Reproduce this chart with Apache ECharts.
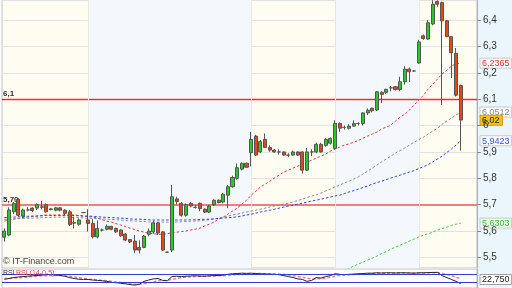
<!DOCTYPE html>
<html><head><meta charset="utf-8">
<script src="https://cdn.jsdelivr.net/npm/echarts@6/dist/echarts.min.js"></script>
<style>html,body{margin:0;padding:0;background:#fff}#c{width:512px;height:288px}</style>
</head><body><div id="c"></div>
<script>
// [open, close, low, high]
const candles = [
[5.577,5.600,5.560,5.610],[5.585,5.680,5.580,5.690],[5.673,5.705,5.665,5.710],[5.720,5.660,5.655,5.725],
[5.657,5.680,5.650,5.685],[5.680,5.680,5.675,5.690],[5.687,5.678,5.672,5.690],[5.687,5.700,5.680,5.705],
[5.690,5.692,5.682,5.715],[5.700,5.673,5.670,5.705],[5.684,5.682,5.678,5.688],[5.679,5.688,5.675,5.692],
[5.688,5.679,5.675,5.690],[5.679,5.667,5.660,5.683],[5.673,5.625,5.620,5.680],[5.630,5.632,5.610,5.655],
[5.626,5.642,5.620,5.648],[5.670,5.670,5.668,5.672],[5.642,5.629,5.598,5.683],[5.629,5.578,5.572,5.645],
[5.578,5.610,5.572,5.640],[5.604,5.604,5.598,5.610],[5.607,5.618,5.603,5.625],[5.618,5.607,5.603,5.620],
[5.610,5.597,5.593,5.613],[5.604,5.582,5.578,5.607],[5.589,5.566,5.562,5.592],[5.568,5.559,5.555,5.570],
[5.562,5.528,5.516,5.585],[5.538,5.528,5.515,5.565],[5.538,5.581,5.535,5.585],[5.588,5.600,5.580,5.610],
[5.597,5.631,5.590,5.640],[5.631,5.593,5.585,5.635],[5.597,5.528,5.525,5.600],[5.520,5.520,5.518,5.522],
[5.528,5.730,5.520,5.775],[5.722,5.712,5.700,5.730],[5.705,5.660,5.655,5.710],[5.660,5.700,5.655,5.705],
[5.705,5.695,5.690,5.710],[5.690,5.690,5.685,5.700],[5.705,5.685,5.675,5.708],[5.683,5.672,5.668,5.686],
[5.672,5.695,5.668,5.700],[5.700,5.717,5.695,5.720],[5.717,5.708,5.705,5.720],[5.710,5.740,5.705,5.745],
[5.736,5.768,5.687,5.775],[5.768,5.803,5.765,5.810],[5.800,5.840,5.795,5.856],[5.835,5.857,5.830,5.860],
[5.857,5.842,5.840,5.860],[5.897,5.947,5.845,5.976],[5.960,5.888,5.885,5.965],[5.900,5.939,5.895,5.945],
[5.948,5.917,5.915,5.970],[5.917,5.907,5.900,5.925],[5.907,5.900,5.897,5.910],[5.900,5.900,5.890,5.910],
[5.900,5.888,5.885,5.902],[5.888,5.888,5.880,5.895],[5.888,5.900,5.885,5.905],[5.900,5.888,5.885,5.902],
[5.900,5.831,5.818,5.902],[5.831,5.900,5.828,5.915],[5.900,5.900,5.885,5.910],[5.900,5.929,5.895,5.935],
[5.929,5.900,5.897,5.935],[5.925,5.948,5.920,5.952],[5.933,5.951,5.928,5.955],[5.913,6.008,5.910,6.020],
[6.008,5.990,5.975,6.012],[5.993,5.993,5.985,6.000],[5.990,5.998,5.985,6.005],[5.998,6.008,5.995,6.020],
[6.008,6.008,6.000,6.012],[6.008,6.048,6.000,6.050],[6.048,6.058,6.040,6.065],[6.066,6.056,6.050,6.068],
[6.059,6.128,6.055,6.130],[6.126,6.118,6.085,6.130],[6.126,6.137,6.120,6.140],[6.143,6.143,6.130,6.150],
[6.147,6.137,6.133,6.150],[6.137,6.166,6.130,6.185],[6.166,6.214,6.155,6.225],[6.214,6.204,6.165,6.220],
[6.207,6.207,6.205,6.209],[6.237,6.317,6.235,6.325],[6.340,6.330,6.325,6.345],[6.328,6.390,6.325,6.400],
[6.385,6.460,6.380,6.475],[6.470,6.460,6.450,6.475],[6.466,6.397,6.078,6.470],[6.397,6.337,6.335,6.400],
[6.337,6.276,6.180,6.340],[6.274,6.115,6.110,6.294],[6.152,6.021,5.905,6.155]
];
const maRed = [5.638,5.642,5.645,5.649,5.651,5.653,5.655,5.657,5.659,5.661,5.661,5.661,5.661,5.661,5.661,5.661,5.659,5.657,5.655,5.653,
5.649,5.643,5.638,5.634,5.628,5.623,5.617,5.611,5.606,5.600,5.596,5.592,5.590,5.588,5.588,5.590,5.594,5.596,5.598,5.600,
5.604,5.607,5.611,5.619,5.626,5.634,5.645,5.653,5.664,5.676,5.687,5.702,5.717,5.736,5.751,5.767,5.778,5.789,5.801,5.812,
5.824,5.831,5.839,5.846,5.854,5.861,5.869,5.877,5.884,5.892,5.903,5.911,5.918,5.926,5.930,5.937,5.943,5.952,5.960,5.968,
5.975,5.987,5.994,6.002,6.017,6.032,6.043,6.059,6.078,6.097,6.115,6.138,6.157,6.176,6.195,6.210,6.225,6.235,6.2365];
const maGray = [5.645,5.645,5.646,5.647,5.648,5.648,5.649,5.650,5.651,5.651,5.652,5.653,5.653,5.653,5.652,5.651,5.651,5.650,5.649,5.648,
5.647,5.646,5.645,5.644,5.643,5.642,5.640,5.639,5.638,5.637,5.636,5.635,5.634,5.634,5.634,5.634,5.634,5.635,5.635,5.636,
5.637,5.638,5.639,5.641,5.643,5.646,5.649,5.653,5.657,5.661,5.664,5.668,5.672,5.676,5.679,5.683,5.687,5.691,5.695,5.698,
5.702,5.706,5.710,5.716,5.721,5.727,5.733,5.738,5.744,5.752,5.759,5.767,5.774,5.782,5.789,5.797,5.805,5.816,5.827,5.839,
5.850,5.862,5.873,5.884,5.896,5.905,5.915,5.926,5.937,5.947,5.956,5.968,5.979,5.990,6.004,6.017,6.028,6.040,6.0512];
const maBlue = [5.651,5.652,5.653,5.654,5.655,5.656,5.657,5.657,5.658,5.659,5.659,5.659,5.659,5.659,5.659,5.659,5.658,5.657,5.657,5.656,
5.654,5.653,5.652,5.651,5.650,5.649,5.648,5.646,5.645,5.645,5.644,5.643,5.642,5.642,5.642,5.642,5.642,5.642,5.642,5.642,
5.643,5.643,5.644,5.645,5.645,5.646,5.648,5.649,5.651,5.652,5.654,5.657,5.661,5.664,5.668,5.672,5.676,5.679,5.683,5.687,
5.691,5.695,5.698,5.702,5.706,5.710,5.714,5.717,5.721,5.725,5.729,5.733,5.736,5.742,5.748,5.753,5.759,5.765,5.771,5.778,
5.784,5.789,5.795,5.801,5.807,5.812,5.818,5.824,5.829,5.837,5.844,5.852,5.862,5.873,5.884,5.898,5.911,5.926,5.9423];
const maGreen = [null,null,null,null,null,null,null,null,null,null,null,null,null,null,null,null,null,null,null,null,
null,null,null,null,null,null,null,null,null,null,null,null,null,null,null,null,null,null,null,null,
null,null,null,null,null,null,null,null,null,null,null,null,null,null,null,null,null,null,null,null,
null,null,null,null,null,null,null,null,null,null,5.429,5.437,5.444,5.452,5.458,5.467,5.475,5.482,5.490,5.497,
5.505,5.515,5.522,5.532,5.539,5.547,5.554,5.562,5.570,5.577,5.585,5.590,5.596,5.604,5.609,5.615,5.621,5.626,5.6303];
const rsi = [46,50,55,58,60,62,64,66,68,70,70,68,66,62,55,50,46,45,45,42,40,38,35,30,28,25,22,18,15,20,
35,42,48,50,40,38,60,62,60,62,63,64,63,62,64,65,66,68,72,75,76,78,77,78,76,75,74,73,72,70,
65,60,55,48,45,35,40,55,52,60,65,75,72,70,72,73,75,76,78,78,80,79,80,80,79,80,80,79,78,80,
80,81,82,82,65,55,45,35,22.75];
const rsiSig = [50,50,52,54,56,58,60,62,64,65,66,66,66,65,62,58,54,50,47,45,43,41,38,35,32,29,26,23,20,19,
22,27,33,38,40,40,45,50,54,57,59,61,62,62,63,63,64,65,67,69,71,73,74,75,76,76,75,75,74,73,
71,68,65,61,57,52,48,48,49,52,56,62,66,68,70,71,72,74,75,76,77,78,78,79,79,79,79,79,79,79,
79,80,80,81,77,72,65,57,48];
const yTicks = [5.5,5.6,5.7,5.8,5.9,6.0,6.1,6.2,6.3,6.4];
const hLines = [6.1, 5.7];
const endValues = {red:6.2365, gray:6.0512, last:6.02, blue:5.9423, green:5.6303};
const rsiLast = 22.750;
const bandBreaks = [18, 53, 71, 89];
const NSLOTS = 102;
const cats = Array.from({length: NSLOTS}, (_, i) => String(i));

const fmt = v => String(v).replace('.', ',');
const chart = echarts.init(document.getElementById('c'));
const GL = 2, GR = 35;
const ma = (name, data, color) => ({
  type:'line', name, data, xAxisIndex:0, yAxisIndex:0, showSymbol:false, symbol:'none',
  lineStyle:{color, width:1, type:[2.5,2]}, z:3, silent:true, animation:false
});
chart.setOption({
  animation:false,
  grid:[
    {left:GL, right:GR, top:0, height:268, show:true, backgroundColor:'#fffdf1', borderColor:'#b8c0c8', borderWidth:1},
    {left:GL, right:GR, top:269, height:21, show:true, backgroundColor:'#ffffff', borderColor:'#b8c0c8', borderWidth:1}
  ],
  xAxis:[
    {type:'category', gridIndex:0, data:cats, boundaryGap:true, axisLine:{show:false}, axisTick:{show:false}, axisLabel:{show:false}},
    {type:'category', gridIndex:1, data:cats, boundaryGap:true, axisLine:{show:false}, axisTick:{show:false}, axisLabel:{show:false}}
  ],
  yAxis:[
    {type:'value', gridIndex:0, position:'right', min:5.46, max:6.476, splitNumber:10, scale:true,
     axisLine:{show:true, lineStyle:{color:'#a8b0b8'}},
     axisTick:{show:true, length:4, lineStyle:{color:'#888'}},
     axisLabel:{show:true, showMinLabel:false, showMaxLabel:false, margin:6, fontSize:10, color:'#333', fontFamily:'Liberation Sans',
       formatter: v => { const t = yTicks.find(k => Math.abs(k - v) < 1e-6); return t === undefined ? '' : fmt(t); }},
     splitLine:{show:true, lineStyle:{color:'#e2e2e2', width:1}}},
    {type:'value', gridIndex:1, position:'right', min:0, max:100, axisLine:{show:true, lineStyle:{color:'#a8b0b8'}},
     axisTick:{show:false}, axisLabel:{show:false}, splitLine:{show:false}}
  ],
  series:[
    {type:'candlestick', name:'px', xAxisIndex:0, yAxisIndex:0, data:candles, barWidth:'76%', z:4,
     itemStyle:{color:'#22cc22', color0:'#ee4411', borderColor:'#555555', borderColor0:'#555555', borderWidth:1},
     markArea:{silent:true, itemStyle:{color:'#f4f8fd'}, z:0,
       data:[[{xAxis:bandBreaks[0]},{xAxis:bandBreaks[1]}],[{xAxis:bandBreaks[2]},{xAxis:bandBreaks[3]}]]},
     markLine:{silent:true, symbol:'none', z:2, animation:false,
       data:[
         {yAxis:hLines[0], lineStyle:{color:'#ff2a2a', width:1.3, type:'solid'},
          label:{show:true, position:'insideStartTop', formatter:fmt(hLines[0]), color:'#333', fontSize:8, fontWeight:'bold', distance:[1,1]}},
         {yAxis:hLines[1], lineStyle:{color:'#f47c7c', width:2, type:'solid'},
          label:{show:true, position:'insideStartTop', formatter:'5,70', color:'#333', fontSize:8, fontWeight:'bold', distance:[1,1]}},
         ...bandBreaks.map(b => ({xAxis:b, lineStyle:{color:'#e8e8e0', width:1, type:'solid'}, label:{show:false}}))
       ]}},
    ma('ma1', maRed, '#e03a3a'),
    ma('ma2', maGray, '#8c8c8c'),
    ma('ma3', maBlue, '#2848e0'),
    ma('ma4', maGreen, '#44c844'),
    {type:'line', name:'rsi', xAxisIndex:1, yAxisIndex:1, data:rsi, showSymbol:false, symbol:'none',
     lineStyle:{color:'#222', width:1}, z:3,
     markLine:{silent:true, symbol:'none', label:{show:false},
       data:[{yAxis:70},{yAxis:30}], lineStyle:{color:'#3a3ad0', width:1, type:'solid'}}},
    {type:'line', name:'sig', xAxisIndex:1, yAxisIndex:1, data:rsiSig, showSymbol:false, symbol:'none',
     lineStyle:{color:'#f08080', width:1.5, type:[3,2]}, z:2}
  ]
});

// right-side value tags placed via the chart's own scale
const tag = (val, txt, fill, bg, stroke, yIdx, maxY) => {
  let y = chart.convertToPixel({yAxisIndex:yIdx||0}, val);
  if (maxY !== undefined) y = Math.min(y, maxY);
  return {type:'group', x:480, y:y-5, z:100, children:[
    {type:'rect', shape:{x:0, y:0, width:txt.length*4.6+4, height:10}, style:{fill:bg, stroke:stroke, lineWidth:1}},
    {type:'text', x:2, y:1, style:{text:txt, fill:fill, fontSize:9, fontFamily:'Liberation Sans'}}
  ]};
};
chart.setOption({graphic:[
  {type:'rect', shape:{x:478, y:0, width:34, height:288}, style:{fill:'#eaf6fb'}, z:-1, silent:true},
  tag(endValues.red, fmt(endValues.red), '#e03030', '#ffffff', '#c8c8c8'),
  tag(endValues.gray, fmt(endValues.gray), '#888888', '#ffffff', '#c8c8c8'),
  tag(endValues.last, fmt(endValues.last), '#222222', '#f2c21a', '#d0a000'),
  tag(endValues.blue, fmt(endValues.blue), '#3050e0', '#ffffff', '#c8c8c8'),
  tag(endValues.green, fmt(endValues.green), '#30c030', '#f4fff4', '#c8c8c8'),
  tag(rsiLast, '22,750', '#222222', '#ffffff', '#a0a0a0', 1, 279.5),
  {type:'text', x:3, y:257, z:100, style:{text:'© IT-Finance.com', fill:'#444', fontSize:9, fontFamily:'Liberation Sans'}},
  {type:'text', x:3, y:270, z:100, style:{text:'RSI', fill:'#333', fontSize:7, fontFamily:'Liberation Sans'}},
  {type:'text', x:16, y:270, z:100, style:{text:'RSI (14-0-5)', fill:'#e04040', fontSize:7, fontFamily:'Liberation Sans'}}
]});
</script></body></html>
